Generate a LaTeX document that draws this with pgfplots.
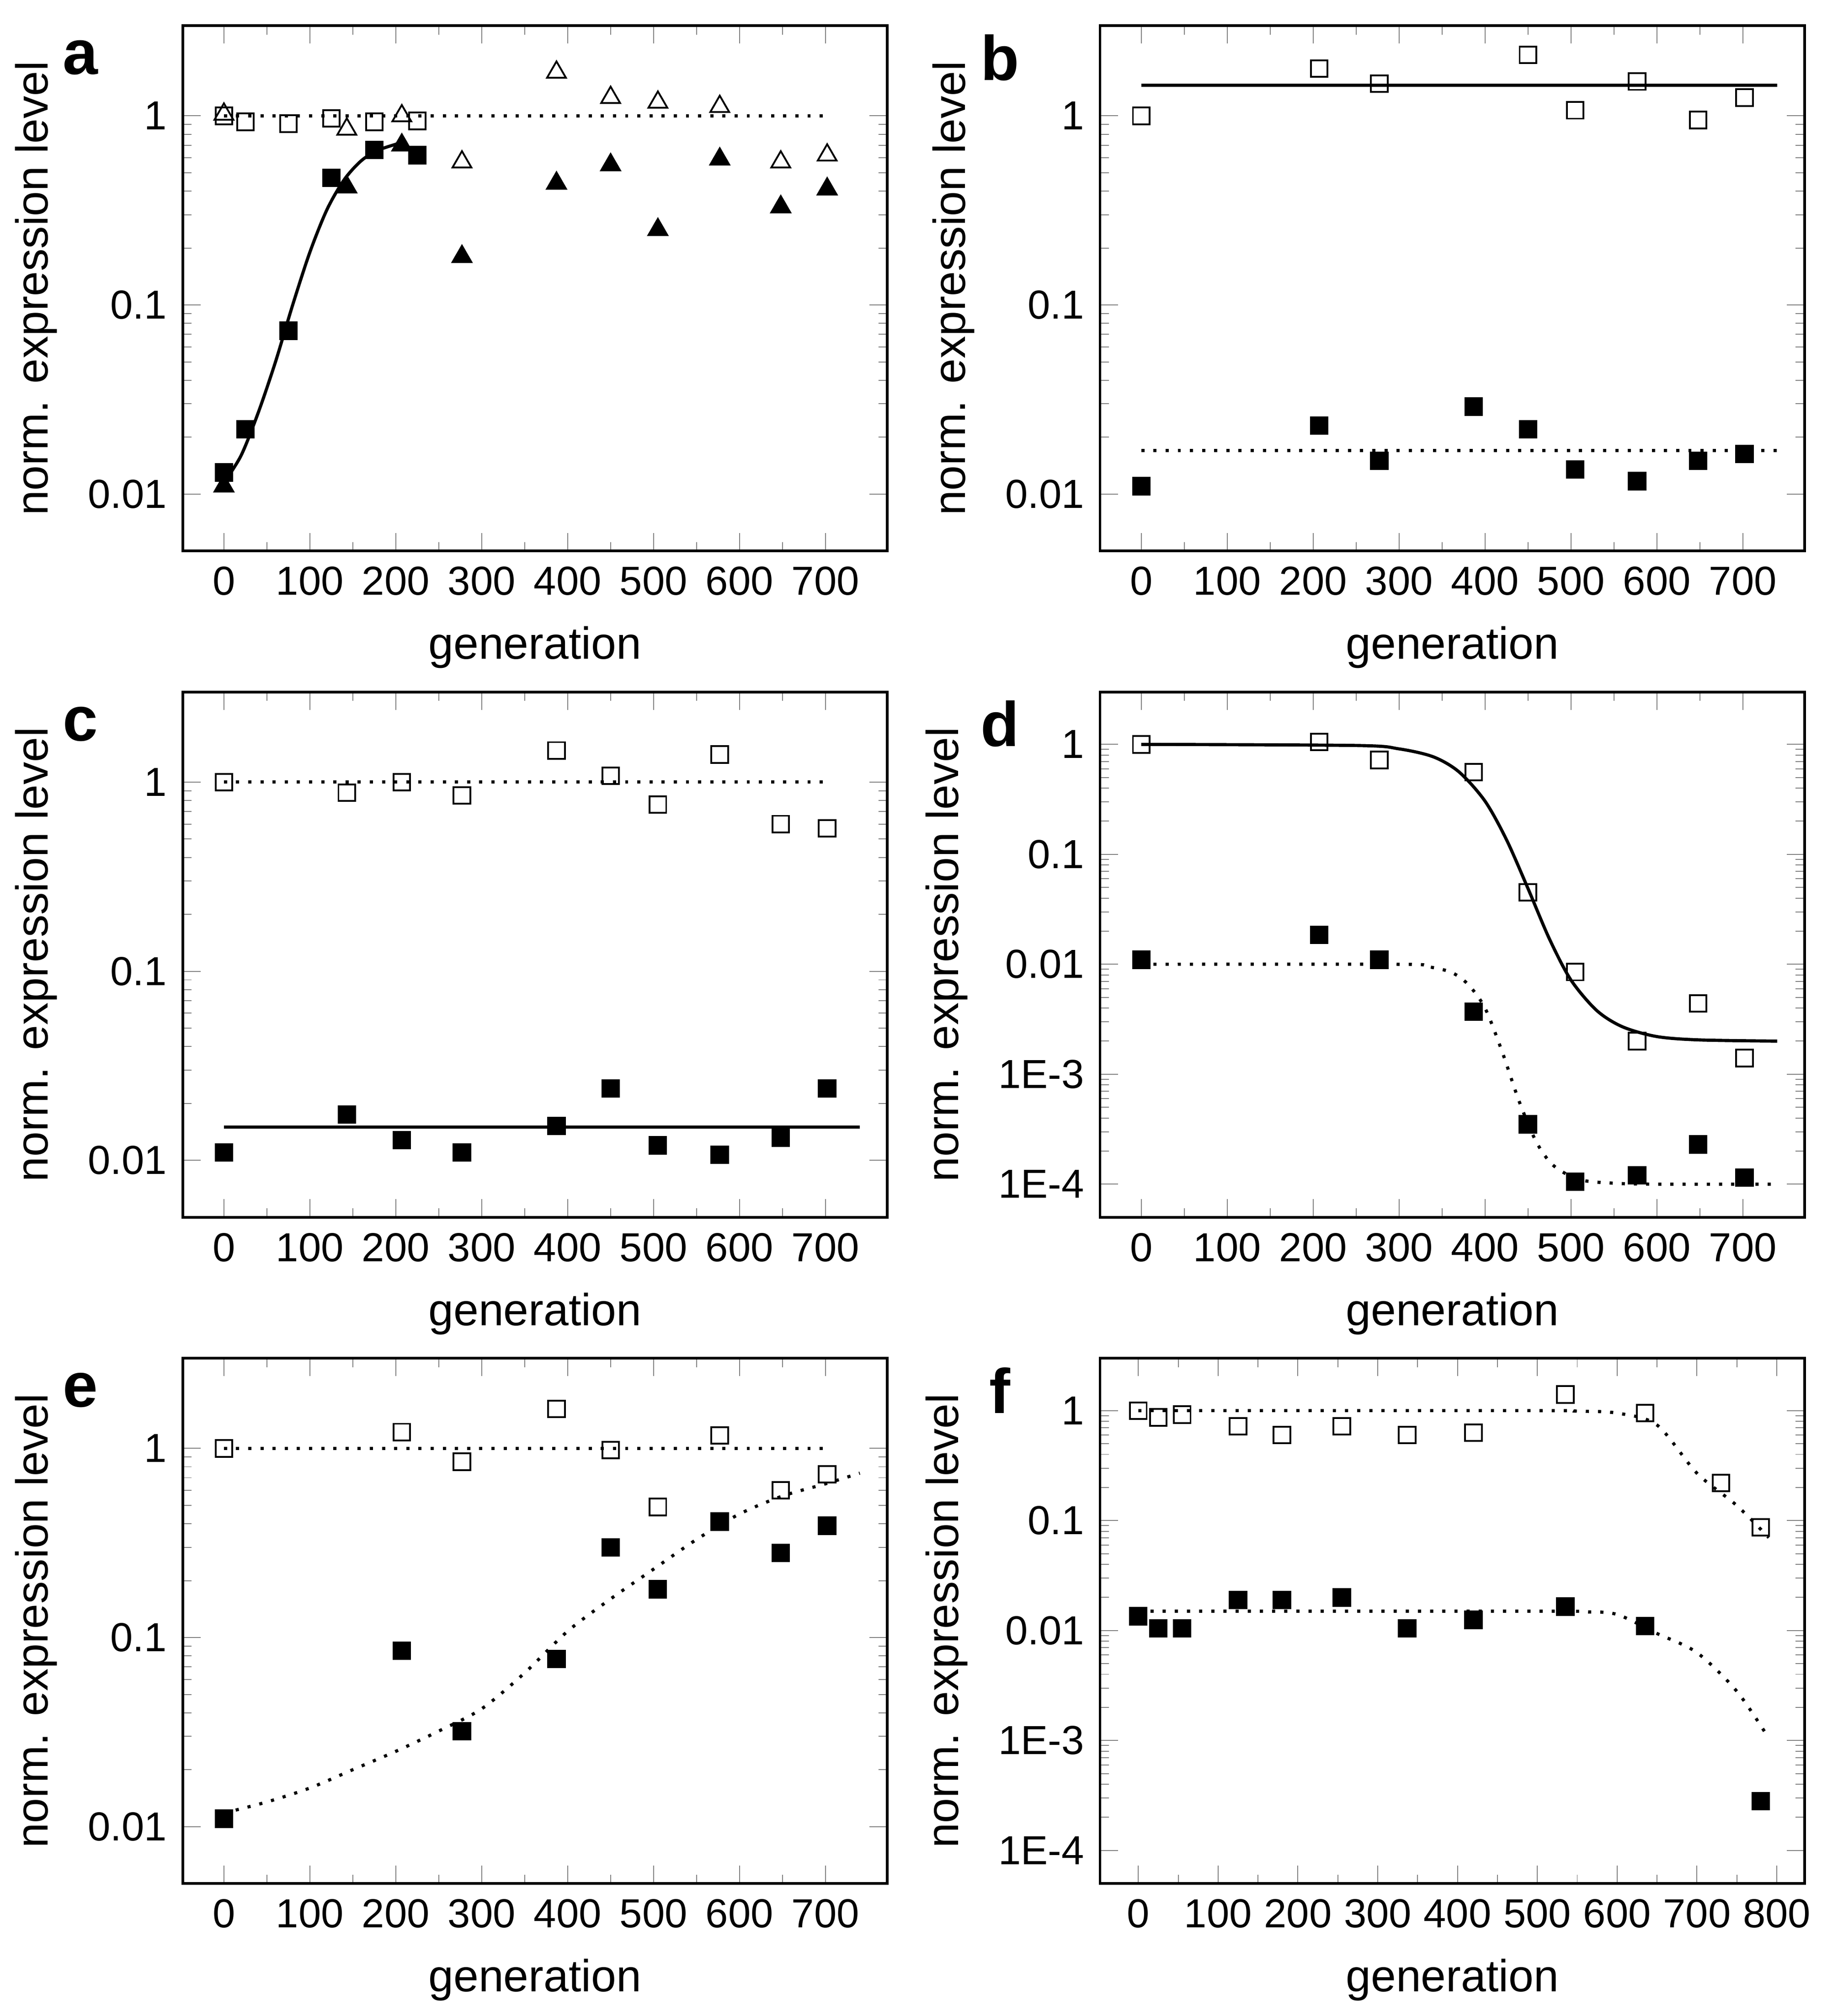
\documentclass[border=0pt]{standalone}
\usepackage{pgfplots}
\pgfplotsset{compat=1.18}
\usepackage{fontspec}
\setmainfont{Liberation Sans}
\pgfplotsset{
 myax/.style={width=5.5cm, height=4.1cm, scale only axis, anchor=north west,
  xmin=-48, xmax=772, ymin=0.005, ymax=3,
  xtick={0,100,...,700}, minor x tick num=1,
  ytick={0.01,0.1,1}, yticklabels={0.01,0.1,1},
  tick align=inside, major tick length=4pt, minor tick length=2pt,
  /pgf/number format/assume math mode=true,
  tick label style={font=\fontsize{9}{10}\selectfont},
  label style={font=\fontsize{10}{12}\selectfont},
  xlabel={generation}, ylabel={norm. expression level},
  axis line style={black, line width=0.6pt}, clip=false},
 myosq/.style={only marks, mark=square, mark size=0.65mm, mark options={black, line width=0.4pt, fill=white}},
 myfsq/.style={only marks, mark=square*, mark size=0.65mm, mark options={black, fill=black}},
 myotr/.style={only marks, mark=triangle, mark size=0.85mm, mark options={black, line width=0.4pt}},
 myftr/.style={only marks, mark=triangle*, mark size=0.85mm, mark options={black, fill=black}},
 mysol/.style={no marks, black, line width=0.7pt},
 mydot/.style={no marks, black, line width=0.7pt, dotted},
 myfour/.style={ymin=5e-5, ytick={1e-4,1e-3,0.01,0.1,1}, yticklabels={1E-4,1E-3,0.01,0.1,1}}
}
\begin{document}
\begin{tikzpicture}
\path (0,0) rectangle (14.14,-15.69);
\node[font=\bfseries\fontsize{14}{14}\selectfont] at (0.42,-0.45) {a};
\node[font=\bfseries\fontsize{14}{14}\selectfont] at (7.6,-0.45) {b};
\node[font=\bfseries\fontsize{14}{14}\selectfont] at (0.42,-5.65) {c};
\node[font=\bfseries\fontsize{14}{14}\selectfont] at (7.6,-5.65) {d};
\node[font=\bfseries\fontsize{14}{14}\selectfont] at (0.42,-10.85) {e};
\node[font=\bfseries\fontsize{14}{14}\selectfont] at (7.6,-10.85) {f};
% a
\begin{axis}[ymode=log, myax, at={(1.22cm,-0.2cm)}]
\addplot[mydot] coordinates {(0,1) (700,1)};
\addplot[mysol, smooth] coordinates {(0,0.0115) (20,0.016) (40,0.027) (60,0.05) (80,0.1) (100,0.19) (120,0.32) (140,0.46) (160,0.58) (180,0.66) (210,0.73)};
\addplot[myosq] coordinates {(0,1.0) (25,0.93) (75,0.91) (125,0.97) (175,0.93) (225,0.94)};
\addplot[myotr] coordinates {(0,1.02) (143,0.85) (207,1.0) (277,0.57) (387,1.7) (450,1.25) (505,1.18) (577,1.12) (648,0.57) (702,0.62)};
\addplot[myfsq] coordinates {(0,0.013) (25,0.022) (75,0.073) (125,0.47) (175,0.66) (225,0.62)};
\addplot[myftr] coordinates {(0,0.011) (143,0.42) (207,0.7) (277,0.18) (387,0.44) (450,0.55) (505,0.25) (577,0.59) (648,0.33) (702,0.41)};
\end{axis}
% b
\begin{axis}[ymode=log, myax, at={(8.38cm,-0.2cm)}]
\addplot[mysol] coordinates {(0,1.45) (740,1.45)};
\addplot[mydot] coordinates {(0,0.017) (740,0.017)};
\addplot[myosq] coordinates {(0,1.0) (207,1.78) (277,1.48) (450,2.1) (505,1.07) (577,1.52) (648,0.95) (702,1.25)};
\addplot[myfsq] coordinates {(0,0.011) (207,0.023) (277,0.015) (387,0.029) (450,0.022) (505,0.0135) (577,0.0117) (648,0.015) (702,0.0163)};
\end{axis}
% c
\begin{axis}[ymode=log, myax, at={(1.22cm,-5.4cm)}]
\addplot[mydot] coordinates {(0,1) (700,1)};
\addplot[mysol] coordinates {(0,0.015) (740,0.015)};
\addplot[myosq] coordinates {(0,1.0) (143,0.88) (207,1.0) (277,0.85) (387,1.47) (450,1.08) (505,0.76) (577,1.4) (648,0.6) (702,0.57)};
\addplot[myfsq] coordinates {(0,0.011) (143,0.0175) (207,0.0128) (277,0.011) (387,0.0152) (450,0.024) (505,0.012) (577,0.0107) (648,0.0132) (702,0.024)};
\end{axis}
% d
\begin{axis}[ymode=log, myax, myfour, at={(8.38cm,-5.4cm)}]
\addplot[mysol, smooth] coordinates {(0,1) (250,0.977) (300,0.91) (340,0.77) (370,0.56) (400,0.305) (425,0.136) (450,0.049) (475,0.017) (500,0.0072) (530,0.0038) (560,0.0027) (600,0.0022) (650,0.00205) (740,0.002)};
\addplot[mydot, smooth] coordinates {(0,0.01) (300,0.01) (330,0.0096) (360,0.0085) (380,0.0066) (400,0.004) (420,0.0016) (440,0.00056) (460,0.00024) (480,0.000147) (510,0.00011) (550,0.000102) (600,0.0001) (740,0.0001)};
\addplot[myosq] coordinates {(0,1.0) (207,1.05) (277,0.72) (387,0.56) (450,0.045) (505,0.0085) (577,0.002) (648,0.0044) (702,0.0014)};
\addplot[myfsq] coordinates {(0,0.011) (207,0.0185) (277,0.011) (387,0.0037) (450,0.00035) (505,0.000105) (577,0.00012) (648,0.00023) (702,0.000115)};
\end{axis}
% e
\begin{axis}[ymode=log, myax, at={(1.22cm,-10.6cm)}]
\addplot[mydot] coordinates {(0,1) (700,1)};
\addplot[mydot, smooth] coordinates {(0,0.0118) (50,0.0135) (100,0.016) (150,0.02) (200,0.025) (250,0.032) (300,0.042) (350,0.065) (400,0.108) (450,0.16) (500,0.23) (550,0.33) (600,0.45) (650,0.56) (700,0.65) (740,0.74)};
\addplot[myosq] coordinates {(0,1.0) (207,1.22) (277,0.85) (387,1.62) (450,0.98) (505,0.49) (577,1.17) (648,0.6) (702,0.73)};
\addplot[myfsq] coordinates {(0,0.011) (207,0.085) (277,0.032) (387,0.077) (450,0.3) (505,0.18) (577,0.41) (648,0.28) (702,0.39)};
\end{axis}
% f
\begin{axis}[ymode=log, myax, myfour, at={(8.38cm,-10.6cm)}, xmin=-48, xmax=835, xtick={0,100,...,800}]
\addplot[mydot, smooth] coordinates {(0,1) (500,1) (550,0.99) (600,0.95) (650,0.74) (700,0.27) (750,0.137) (790,0.07)};
\addplot[mydot, smooth] coordinates {(0,0.015) (500,0.015) (560,0.0148) (600,0.014) (650,0.0094) (700,0.0063) (750,0.0028) (790,0.00105)};
\addplot[myosq] coordinates {(0,1.0) (25,0.87) (55,0.92) (125,0.72) (180,0.6) (255,0.72) (337,0.6) (420,0.63) (535,1.4) (635,0.95) (730,0.22) (780,0.087)};
\addplot[myfsq] coordinates {(0,0.0135) (25,0.0105) (55,0.0105) (125,0.019) (180,0.019) (255,0.02) (337,0.0105) (420,0.0125) (535,0.0165) (635,0.011) (780,0.00028)};
\end{axis}
\end{tikzpicture}
\end{document}
